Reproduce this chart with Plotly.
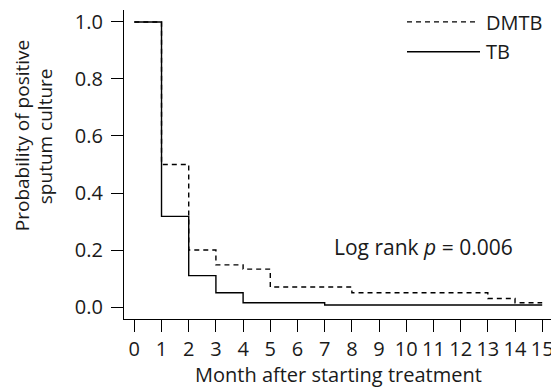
import plotly.graph_objects as go

# Kaplan-Meier step data (month, probability)
dmtb_months = [0, 1, 2, 3, 4, 5, 8, 13, 14, 15]
dmtb_prob = [1.0, 0.5, 0.2, 0.148, 0.133, 0.07, 0.05, 0.03, 0.015, 0.015]
tb_months = [0, 1, 2, 3, 4, 7, 15]
tb_prob = [1.0, 0.318, 0.11, 0.05, 0.015, 0.007, 0.007]

x_ticks = list(range(0, 16))
y_ticks = [0.0, 0.2, 0.4, 0.6, 0.8, 1.0]
y_ticklabels = ["0.0", "0.2", "0.4", "0.6", "0.8", "1.0"]

FONT = "Open Sans"
TXT = "#1a1a1a"

# page body has an 8px margin: figure is placed at (8, 8)
W, H = 551, 382
L, R, T, B = 116, 7, 0, 71
PW, PH = W - L - R, H - T - B


def px(xabs):
    return (xabs - 8 - L) / PW


def py(yabs):
    return 1 - (yabs - 8 - T) / PH


fig = go.Figure()
fig.add_trace(go.Scatter(x=dmtb_months, y=dmtb_prob, mode="lines", line_shape="hv",
                         line=dict(color="black", width=1.4, dash="5px,4px"), name="DMTB",
                         showlegend=False))
fig.add_trace(go.Scatter(x=tb_months, y=tb_prob, mode="lines", line_shape="hv",
                         line=dict(color="black", width=1.4), name="TB", showlegend=False))

fig.update_layout(
    width=W, height=H,
    margin=dict(l=L, r=R, t=T, b=B),
    paper_bgcolor="white", plot_bgcolor="white",
    font=dict(family=FONT, size=20, color=TXT),
    xaxis=dict(range=[-0.38, 15.36], tickvals=x_ticks, ticktext=[str(v) for v in x_ticks],
               showgrid=False, zeroline=False, showline=True, linecolor="black", linewidth=1.2,
               ticks="outside", ticklen=12, tickwidth=1.2, tickcolor="black",
               ticklabeloverflow="allow",
               tickfont=dict(size=20, family=FONT, color=TXT)),
    yaxis=dict(range=[-0.042, 1.042], tickvals=y_ticks, ticktext=y_ticklabels,
               showgrid=False, zeroline=False, showline=True, linecolor="black", linewidth=1.2,
               ticks="outside", ticklen=12, tickwidth=1.2, tickcolor="black",
               ticklabeloverflow="allow", ticklabelstandoff=4,
               tickfont=dict(size=20, family=FONT, color=TXT)),
)

# Legend drawn manually
fig.add_shape(type="line", xref="paper", yref="paper",
              x0=px(407), x1=px(477), y0=py(20), y1=py(20),
              line=dict(color="black", width=1.4, dash="5px,4px"))
fig.add_shape(type="line", xref="paper", yref="paper",
              x0=px(407), x1=px(480), y0=py(50), y1=py(50),
              line=dict(color="black", width=1.4))
fig.add_annotation(x=px(484), y=py(21), xref="paper", yref="paper",
                   text="DMTB", showarrow=False, xanchor="left", yanchor="middle",
                   font=dict(size=20, family=FONT, color=TXT))
fig.add_annotation(x=px(484), y=py(50), xref="paper", yref="paper",
                   text="TB", showarrow=False, xanchor="left", yanchor="middle",
                   font=dict(size=20, family=FONT, color=TXT))

fig.add_annotation(x=px(332), y=py(247), xref="paper", yref="paper",
                   text="Log rank <i>p</i> = 0.006", showarrow=False, xanchor="left", yanchor="middle",
                   font=dict(size=21, family=FONT, color=TXT))

# Axis titles
fig.add_annotation(x=px(338), y=py(375), xref="paper", yref="paper",
                   text="Month after starting treatment", showarrow=False,
                   xanchor="center", yanchor="middle",
                   font=dict(size=20, family=FONT, color=TXT))
fig.add_annotation(x=px(22), y=py(135), xref="paper", yref="paper",
                   text="Probability of positive", showarrow=False,
                   textangle=-90, xanchor="center", yanchor="middle",
                   font=dict(size=19, family=FONT, color=TXT))
fig.add_annotation(x=px(45), y=py(135), xref="paper", yref="paper",
                   text="sputum culture", showarrow=False,
                   textangle=-90, xanchor="center", yanchor="middle",
                   font=dict(size=19, family=FONT, color=TXT))

fig.write_html("out.html")
